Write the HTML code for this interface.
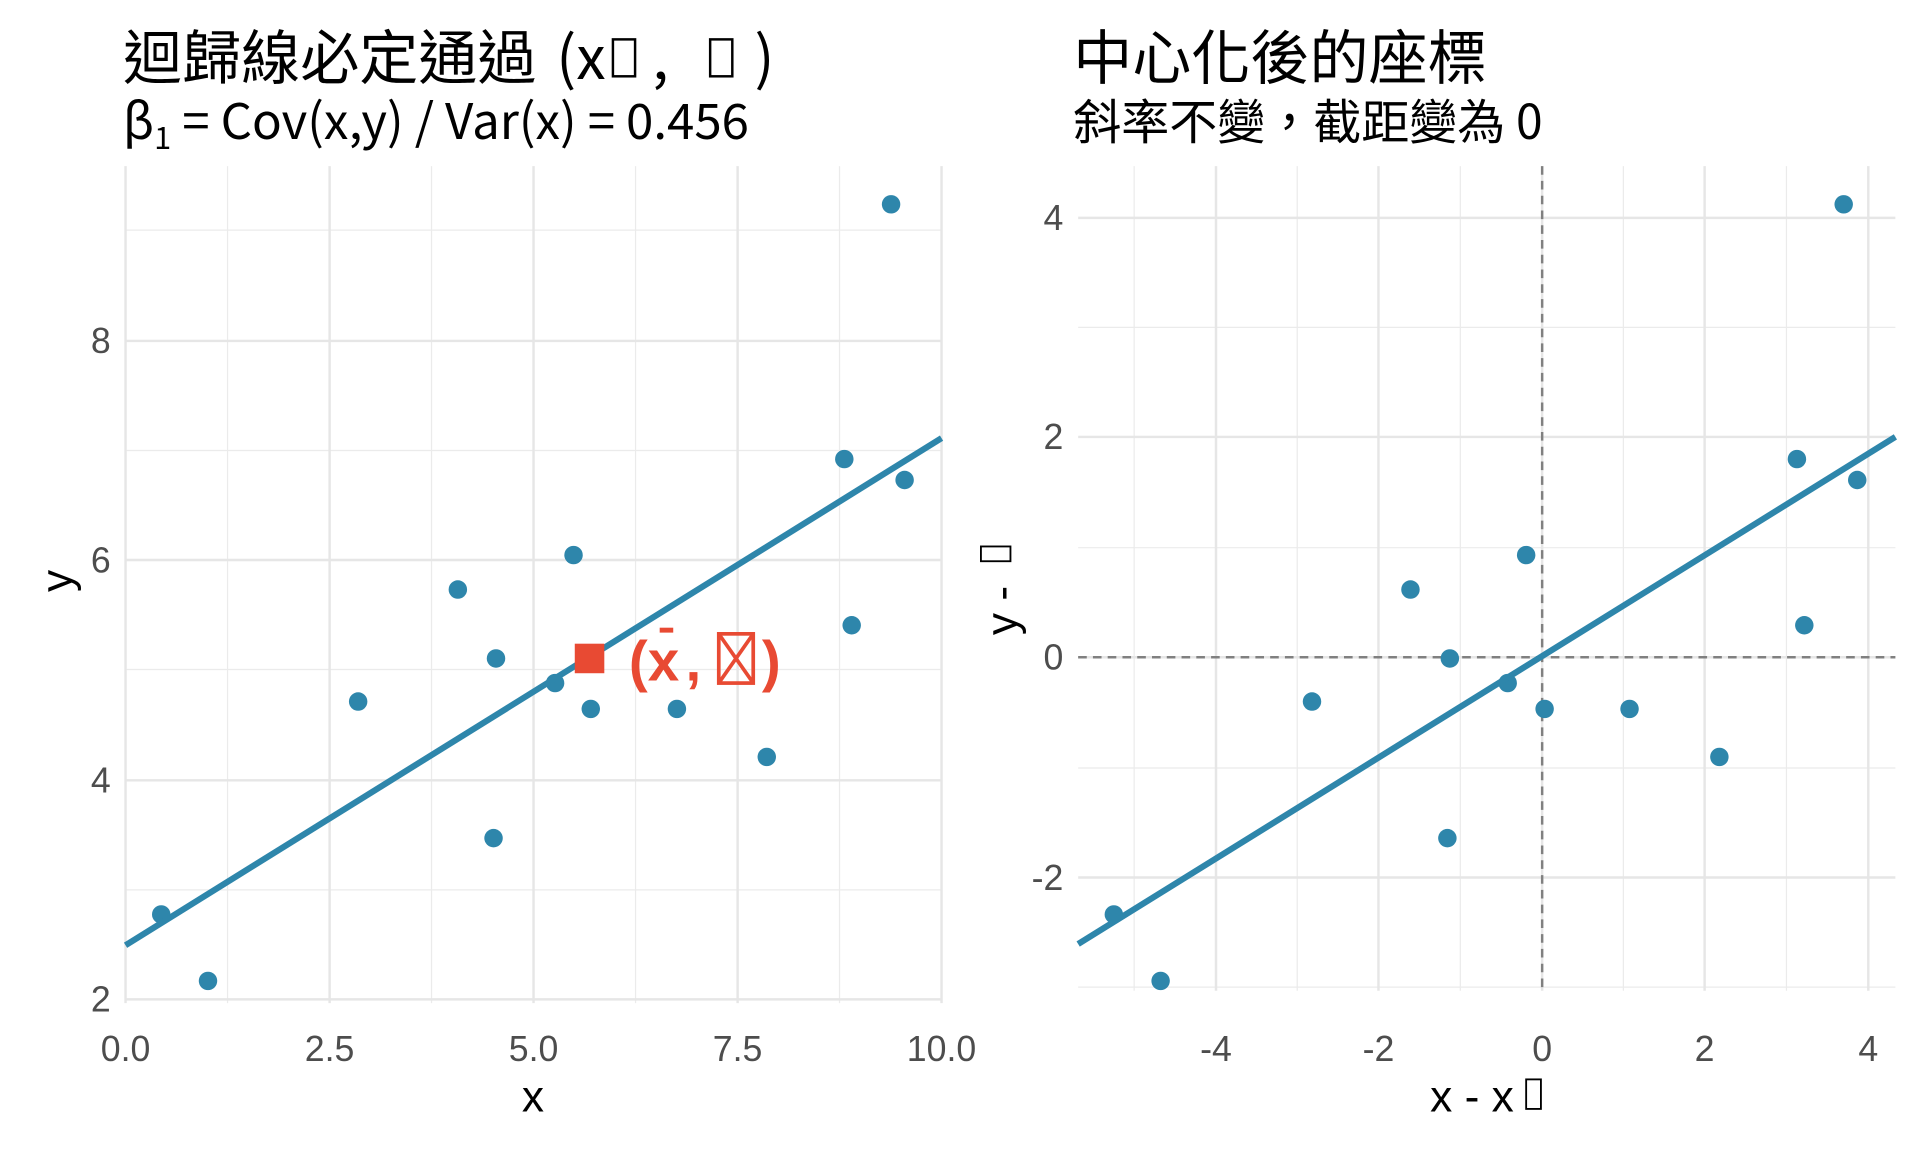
<!DOCTYPE html>
<html><head><meta charset="utf-8"><style>html,body{margin:0;padding:0;background:#fff}svg{display:block}</style></head>
<body>
<svg width="1920" height="1152" viewBox="0 0 1560 936" xmlns="http://www.w3.org/2000/svg" font-family="'Liberation Sans','Noto Sans CJK TC',sans-serif">
<rect width="1560" height="936" fill="#fff"/>
<g stroke="#ebebeb" stroke-width="1">
<line x1="184.9" y1="135" x2="184.9" y2="815"/><line x1="350.6" y1="135" x2="350.6" y2="815"/><line x1="516.4" y1="135" x2="516.4" y2="815"/><line x1="682.1" y1="135" x2="682.1" y2="815"/>
<line x1="102" y1="187" x2="765" y2="187"/><line x1="102" y1="366" x2="765" y2="366"/><line x1="102" y1="544" x2="765" y2="544"/><line x1="102" y1="723" x2="765" y2="723"/>
</g>
<g stroke="#e6e6e6" stroke-width="2">
<line x1="102" y1="135" x2="102" y2="815"/><line x1="267.8" y1="135" x2="267.8" y2="815"/><line x1="433.5" y1="135" x2="433.5" y2="815"/><line x1="599.3" y1="135" x2="599.3" y2="815"/><line x1="765" y1="135" x2="765" y2="815"/>
<line x1="102" y1="277" x2="765" y2="277"/><line x1="102" y1="455" x2="765" y2="455"/><line x1="102" y1="634" x2="765" y2="634"/><line x1="102" y1="812" x2="765" y2="812"/>
</g>
<g fill="#2e86ab">
<circle cx="131" cy="743" r="7.5"/><circle cx="169" cy="797" r="7.5"/><circle cx="291" cy="570" r="7.5"/><circle cx="372" cy="479" r="7.5"/><circle cx="403" cy="535" r="7.5"/><circle cx="401" cy="681" r="7.5"/><circle cx="451" cy="555" r="7.5"/><circle cx="466" cy="451" r="7.5"/><circle cx="480" cy="576" r="7.5"/><circle cx="550" cy="576" r="7.5"/><circle cx="623" cy="615" r="7.5"/><circle cx="686" cy="373" r="7.5"/><circle cx="692" cy="508" r="7.5"/><circle cx="724" cy="166" r="7.5"/><circle cx="735" cy="390" r="7.5"/>
</g>
<line x1="102" y1="768" x2="765" y2="356" stroke="#2e86ab" stroke-width="5"/>
<rect x="467" y="523" width="24" height="24" fill="#e84a33"/>
<g fill="#e84a33" font-weight="bold" font-size="46" font-family="'Liberation Sans','Noto Sans CJK TC',sans-serif">
<text x="511" y="553">(x</text>
<text x="557" y="553">,</text>
<text x="619" y="553">)</text>
</g>
<rect x="536" y="510" width="11" height="4" fill="#e84a33"/>
<g fill="none" stroke="#e84a33" stroke-width="3"><rect x="584" y="515" width="28" height="40"/><line x1="584" y1="515" x2="612" y2="555"/><line x1="612" y1="515" x2="584" y2="555"/></g>
<g fill="#4d4d4d" font-size="29">
<text x="90" y="822" text-anchor="end">2</text><text x="90" y="644" text-anchor="end">4</text><text x="90" y="465" text-anchor="end">6</text><text x="90" y="287" text-anchor="end">8</text>
<text x="102" y="862" text-anchor="middle">0.0</text><text x="267.8" y="862" text-anchor="middle">2.5</text><text x="433.5" y="862" text-anchor="middle">5.0</text><text x="599.3" y="862" text-anchor="middle">7.5</text><text x="765" y="862" text-anchor="middle">10.0</text>
</g>
<text x="433" y="903" font-size="36" text-anchor="middle">x</text>
<text transform="translate(58,472) rotate(-90)" font-size="36" text-anchor="middle">y</text>
<g font-size="48" font-family="'Noto Sans CJK TC',sans-serif">
<text x="100" y="64">迴歸線必定通過</text>
<text x="452" y="64">(x</text>
<text x="530" y="64">,</text>
<text x="613" y="64">)</text>
</g>
<g fill="none" stroke="#000" stroke-width="2"><rect x="498" y="32" width="18" height="30"/><rect x="577" y="32" width="18" height="30"/></g>
<text x="100" y="113" font-size="40" font-family="'Noto Sans CJK TC',sans-serif">β<tspan font-size="25" dy="8">1</tspan><tspan dy="-8"> = Cov(x,y) / Var(x) = 0.456</tspan></text>
<g stroke="#ebebeb" stroke-width="1">
<line x1="921.5" y1="135" x2="921.5" y2="805"/><line x1="1054" y1="135" x2="1054" y2="805"/><line x1="1186.5" y1="135" x2="1186.5" y2="805"/><line x1="1319" y1="135" x2="1319" y2="805"/><line x1="1451.5" y1="135" x2="1451.5" y2="805"/>
<line x1="876" y1="266" x2="1540" y2="266"/><line x1="876" y1="445" x2="1540" y2="445"/><line x1="876" y1="624" x2="1540" y2="624"/><line x1="876" y1="802" x2="1540" y2="802"/>
</g>
<g stroke="#e6e6e6" stroke-width="2">
<line x1="988" y1="135" x2="988" y2="805"/><line x1="1120" y1="135" x2="1120" y2="805"/><line x1="1253" y1="135" x2="1253" y2="805"/><line x1="1385" y1="135" x2="1385" y2="805"/><line x1="1518" y1="135" x2="1518" y2="805"/>
<line x1="876" y1="177" x2="1540" y2="177"/><line x1="876" y1="355" x2="1540" y2="355"/><line x1="876" y1="534" x2="1540" y2="534"/><line x1="876" y1="713" x2="1540" y2="713"/>
</g>
<g stroke="#808080" stroke-width="2" stroke-dasharray="7,5">
<line x1="1253" y1="135" x2="1253" y2="805"/><line x1="876" y1="534" x2="1540" y2="534"/>
</g>
<g fill="#2e86ab">
<circle cx="905" cy="743" r="7.5"/><circle cx="943" cy="797" r="7.5"/><circle cx="1066" cy="570" r="7.5"/><circle cx="1146" cy="479" r="7.5"/><circle cx="1178" cy="535" r="7.5"/><circle cx="1176" cy="681" r="7.5"/><circle cx="1225" cy="555" r="7.5"/><circle cx="1240" cy="451" r="7.5"/><circle cx="1255" cy="576" r="7.5"/><circle cx="1324" cy="576" r="7.5"/><circle cx="1397" cy="615" r="7.5"/><circle cx="1460" cy="373" r="7.5"/><circle cx="1466" cy="508" r="7.5"/><circle cx="1498" cy="166" r="7.5"/><circle cx="1509" cy="390" r="7.5"/>
</g>
<line x1="876" y1="767" x2="1540" y2="355" stroke="#2e86ab" stroke-width="5"/>
<g fill="#4d4d4d" font-size="29">
<text x="864" y="187" text-anchor="end">4</text><text x="864" y="365" text-anchor="end">2</text><text x="864" y="544" text-anchor="end">0</text><text x="864" y="723" text-anchor="end">-2</text>
<text x="988" y="862" text-anchor="middle">-4</text><text x="1120" y="862" text-anchor="middle">-2</text><text x="1253" y="862" text-anchor="middle">0</text><text x="1385" y="862" text-anchor="middle">2</text><text x="1518" y="862" text-anchor="middle">4</text>
</g>
<text x="1162" y="903" font-size="36">x - x</text>
<rect x="1240" y="877" width="12" height="24" fill="none" stroke="#000" stroke-width="1.5"/>
<text transform="translate(826,516) rotate(-90)" font-size="36">y - </text>
<rect x="797" y="444" width="24" height="12" fill="none" stroke="#000" stroke-width="1.5"/>
<text x="872" y="64" font-size="48" font-family="'Noto Sans CJK TC',sans-serif">中心化後的座標</text>
<text x="872" y="113" font-size="39" font-family="'Noto Sans CJK TC',sans-serif">斜率不變，截距變為 0</text>
</svg>
</body></html>
